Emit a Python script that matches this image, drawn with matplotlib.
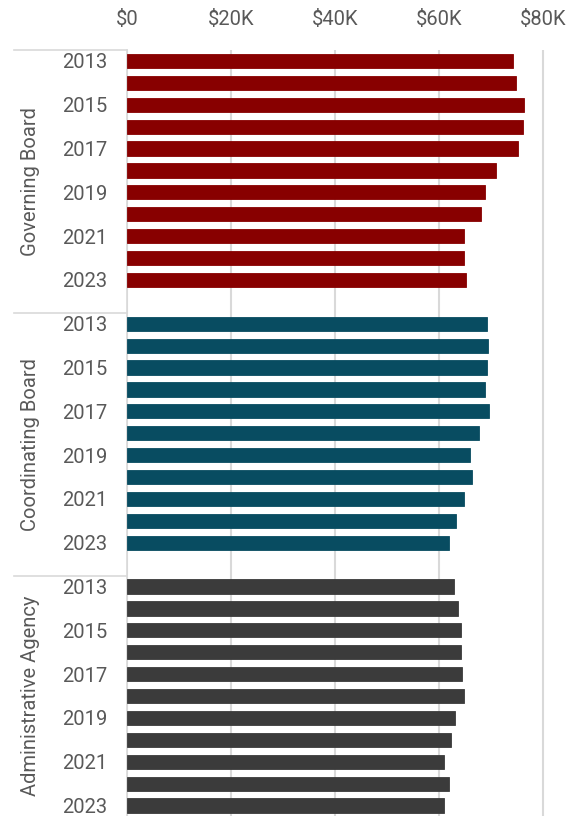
import matplotlib
matplotlib.use("Agg")
import matplotlib.pyplot as plt
from matplotlib.ticker import FuncFormatter

years = list(range(2013, 2024))
groups = ["Governing Board", "Coordinating Board", "Administrative Agency"]
governing = [74.2, 74.9, 76.3, 76.2, 75.1, 71.0, 68.8, 68.1, 64.8, 64.8, 65.2]
coordinating = [69.2, 69.5, 69.2, 68.8, 69.6, 67.6, 66.0, 66.3, 64.8, 63.3, 62.0]
administrative = [62.8, 63.7, 64.2, 64.2, 64.4, 64.8, 63.1, 62.4, 60.9, 62.0, 61.0]
series = [governing, coordinating, administrative]
colors = ["#880000", "#084C61", "#3B3B3B"]
xticks = [0, 20, 40, 60, 80]

W, H = 581, 816
plt.rcParams['font.family'] = ['Roboto', 'DejaVu Sans']
fig = plt.figure(figsize=(W / 100, H / 100), dpi=100)

x0_px, top_px = 127, 50
px_per_k = 5.2
slot_px = 21.9
ax = fig.add_axes([x0_px / W, 0, (W - x0_px) / W, (H - top_px) / H])
n_slots_vis = (H - top_px) / slot_px
ax.set_ylim(n_slots_vis - 0.5, -0.5)
ax.set_xlim(0, (W - x0_px) / px_per_k)

fs = 14.5
tcol = "#595959"
slots = 12
ytick_pos, ytick_lab = [], []
for g, (vals, col) in enumerate(zip(series, colors)):
    pos = [g * slots + i for i in range(len(years))]
    ax.barh(pos, vals, height=0.65, color=col, edgecolor=col, linewidth=0.6, zorder=3)
    for p, y in zip(pos, years):
        if (y - 2013) % 2 == 0:
            ytick_pos.append(p)
            ytick_lab.append(str(y))

ax.set_yticks(ytick_pos)
ax.set_yticklabels(ytick_lab, fontsize=fs, color=tcol)
ax.tick_params(axis='y', length=0, pad=14)

ax.xaxis.tick_top()
ax.set_xticks(xticks)
ax.xaxis.set_major_formatter(FuncFormatter(lambda v, p: "$0" if v == 0 else f"${int(v)}K"))
ax.tick_params(axis='x', length=0, pad=15, labelsize=fs, labelcolor=tcol)
ax.grid(axis='x', color="#D9D9D9", linewidth=1.5, zorder=0)
for s in ['top', 'right', 'bottom']:
    ax.spines[s].set_visible(False)
ax.spines['left'].set_color("#D9D9D9")
ax.spines['left'].set_linewidth(1.2)

# group separators and labels in the label column
sep_left_ax = (14 - x0_px) / (W - x0_px)
for g in range(3):
    ysep = g * slots - 0.5
    ax.plot([sep_left_ax, 0], [ysep, ysep], transform=ax.get_yaxis_transform(),
            color="#D9D9D9", linewidth=1.2, clip_on=False)
    top = g * slots - 0.5
    bot = min((g + 1) * slots - 0.5, n_slots_vis - 0.5)
    ax.text((31 - x0_px) / (W - x0_px), (top + bot) / 2, groups[g],
            transform=ax.get_yaxis_transform(), rotation=90,
            ha='center', va='center', fontsize=fs, color=tcol, clip_on=False)

fig.savefig("out.png", dpi=100)
